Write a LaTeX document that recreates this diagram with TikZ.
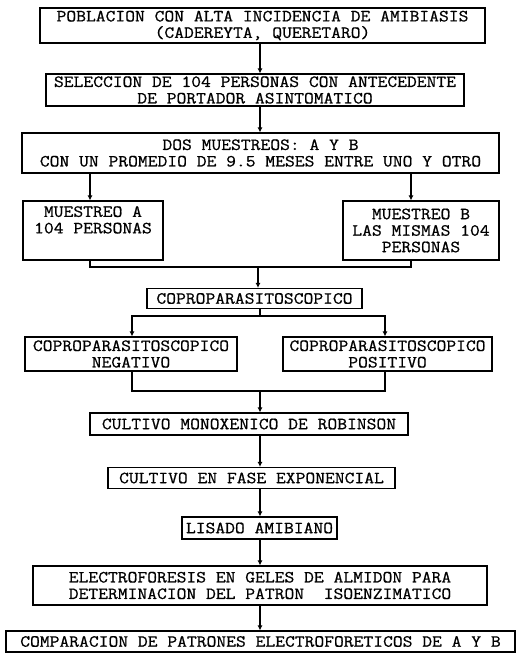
\documentclass[tikz,border=0pt]{standalone}
\usepackage{fontspec}
\newfontfamily\typef[FakeBold=0.8, FakeStretch=1.12]{Latin Modern Mono}
\usetikzlibrary{arrows.meta}
\tikzset{
  box/.style={draw, line width=1.1pt, inner sep=0pt, align=center,
    font=\fontsize{17}{16.5}\selectfont\typef},
  link/.style={line width=1.1pt},
  arr/.style={line width=1.1pt, -{Latex[length=5pt,width=5pt]}}
}
\begin{document}
\begin{tikzpicture}[x=1pt,y=-1pt]
\fill[white] (0,0) rectangle (523,653);
\useasboundingbox (0,0) rectangle (523,653);

\node[box, minimum width=445, minimum height=35] (b1) at (262.5,25.5)
  {POBLACION CON ALTA INCIDENCIA DE AMIBIASIS\\(CADEREYTA, QUERETARO)};
\node[box, minimum width=418, minimum height=32] (b2) at (255,90)
  {SELECCION DE 104 PERSONAS CON ANTECEDENTE\\DE PORTADOR ASINTOMATICO};
\node[box, minimum width=477, minimum height=40] (b3) at (260.5,153)
  {DOS MUESTREOS: A Y B\\CON UN PROMEDIO DE 9.5 MESES ENTRE UNO Y OTRO};
\node[box, minimum width=140, minimum height=59] (ma) at (93,230.5)
  {MUESTREO A\\104 PERSONAS\\\strut};
\node[box, minimum width=156, minimum height=59] (mb) at (421,230.5)
  {MUESTREO B\\LAS MISMAS 104\\PERSONAS};
\node[box, minimum width=215, minimum height=20] (cp) at (254.5,298.5)
  {COPROPARASITOSCOPICO};
\node[box, minimum width=212, minimum height=34] (neg) at (131,354)
  {COPROPARASITOSCOPICO\\NEGATIVO};
\node[box, minimum width=209, minimum height=34] (pos) at (387.5,354)
  {COPROPARASITOSCOPICO\\POSITIVO};
\node[box, minimum width=318, minimum height=22] (mx) at (249,424)
  {CULTIVO MONOXENICO DE ROBINSON};
\node[box, minimum width=287, minimum height=21] (ex) at (251.5,478)
  {CULTIVO EN FASE EXPONENCIAL};
\node[box, minimum width=155, minimum height=22] (li) at (259.5,528)
  {LISADO AMIBIANO};
\node[box, minimum width=454, minimum height=39] (el) at (260,585.5)
  {ELECTROFORESIS EN GELES DE ALMIDON PARA\\DETERMINACION DEL PATRON\ \ ISOENZIMATICO};
\node[box, minimum width=509, minimum height=21] (co) at (260.5,641.5)
  {COMPARACION DE PATRONES ELECTROFORETICOS DE A Y B};

\coordinate (mid) at (260,0);
\coordinate (ax) at (90,0);
\coordinate (bx) at (411,0);
\coordinate (nx) at (132,0);
\coordinate (px) at (385,0);
\coordinate (j1) at (258,267);
\coordinate (br) at (260,316);
\coordinate (j2) at (260,391);

\draw[arr] (b1.south -| mid) -- (b2.north -| mid);
\draw[arr] (b2.south -| mid) -- (b3.north -| mid);
\draw[arr] (b3.south -| ax) -- (ma.north -| ax);
\draw[arr] (b3.south -| bx) -- (mb.north -| bx);
\draw[link] (ma.south -| ax) |- (j1) -| (mb.south -| bx);
\draw[arr] (j1) -- (cp.north -| j1);
\draw[link] (cp.south -| mid) -- (br);
\draw[arr] (br) -| (neg.north -| nx);
\draw[arr] (br) -| (pos.north -| px);
\draw[link] (neg.south -| nx) |- (j2) -| (pos.south -| px);
\draw[arr] (j2) -- (mx.north -| j2);
\draw[arr] (mx.south -| mid) -- (ex.north -| mid);
\draw[arr] (ex.south -| mid) -- (li.north -| mid);
\draw[arr] (li.south -| mid) -- (el.north -| mid);
\draw[arr] (el.south -| mid) -- (co.north -| mid);
\end{tikzpicture}
\end{document}
